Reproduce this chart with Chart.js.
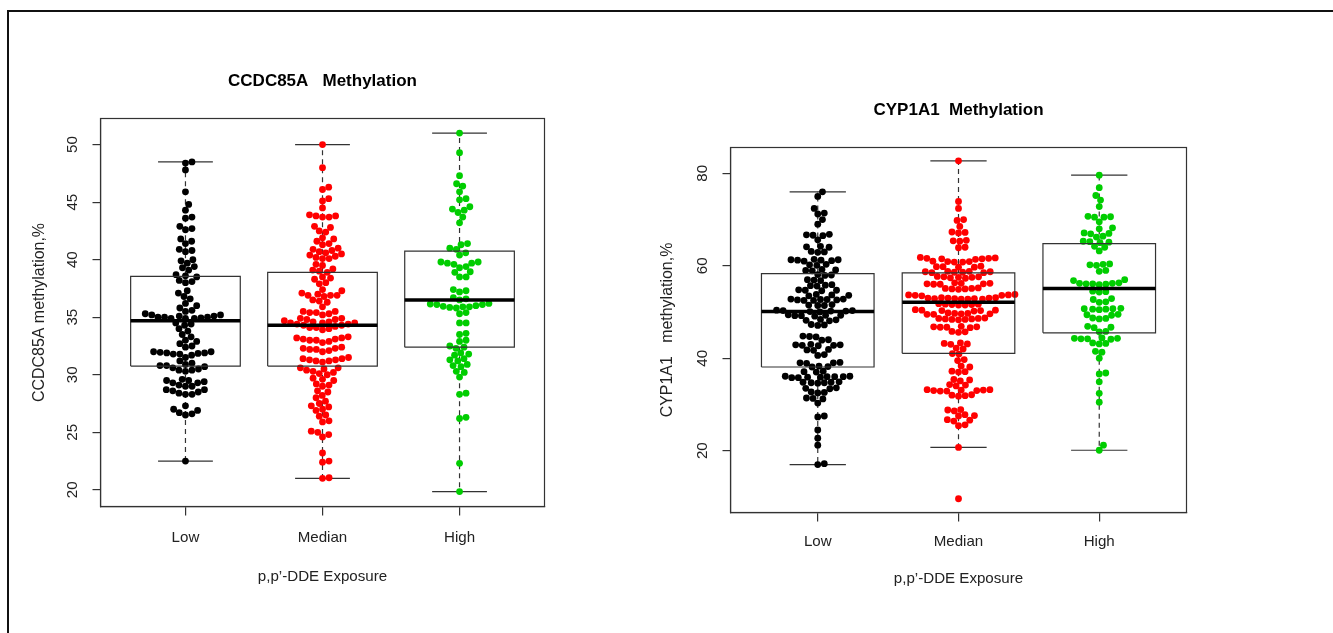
<!DOCTYPE html>
<html><head><meta charset="utf-8">
<script src="https://cdn.jsdelivr.net/npm/chart.js@4.4.1/dist/chart.umd.min.js"></script>
<style>
html,body{margin:0;padding:0;background:#fff;width:1333px;height:633px;overflow:hidden;}
#frame{position:absolute;left:7px;top:9.5px;right:-5px;bottom:-5px;border-top:2px solid #111;border-left:2px solid #111;}
canvas{position:absolute;top:0;}
#c1{left:0px}
#c2{left:640px}
</style></head><body>
<div id="frame"></div>
<canvas id="c1" width="640" height="633"></canvas>
<canvas id="c2" width="693" height="633"></canvas>
<script>
// ---------------- data ----------------
const categories = ['Low', 'Median', 'High'];
const pointColors = ['#000000', '#FF0000', '#00CD00'];

// CCDC85A methylation (%) by exposure group
const ccdcLow = [48.5, 48.4, 47.8, 45.9, 44.8, 44.3, 43.7, 43.6, 42.9, 42.7, 42.6, 41.8, 41.6, 41.4, 40.9, 40.8, 40.7,
  40.0, 39.9, 39.7, 39.4, 39.3, 39.1, 38.7, 38.6, 38.5, 38.2, 38.1, 38.0, 37.3, 37.1, 36.8, 36.6, 36.2, 36.0, 35.8,
  35.6, 35.5, 35.3, 35.2, 35.2, 35.1, 35.1, 35.0, 35.0, 35.0, 34.95, 34.9, 34.9, 34.9, 34.5, 34.4, 34.3, 34.0, 33.8,
  33.5, 33.3, 33.0, 32.9, 32.7, 32.5, 32.4, 32.0, 32.0, 31.95, 31.9, 31.9, 31.85, 31.8, 31.8, 31.7, 31.5, 31.2, 31.0,
  30.9, 30.8, 30.8, 30.7, 30.6, 30.5, 30.4, 30.4, 30.3, 29.6, 29.5, 29.5, 29.4, 29.3, 29.3, 29.1, 29.0, 29.0, 28.7,
  28.7, 28.6, 28.5, 28.4, 28.3, 28.3, 27.3, 27.0, 26.9, 26.7, 26.6, 26.5, 22.5];
const ccdcMedian = [50.0, 48.0, 46.3, 46.1, 45.3, 45.1, 44.5, 43.9, 43.8, 43.8, 43.7, 43.7, 42.9, 42.8, 42.5, 42.4,
  41.9, 41.8, 41.6, 41.4, 41.3, 41.0, 40.9, 40.8, 40.7, 40.6, 40.5, 40.4, 40.3, 40.2, 40.1, 40.1, 39.6, 39.5, 39.2,
  39.1, 39.0, 38.9, 38.5, 38.4, 38.3, 38.0, 37.9, 37.4, 37.3, 37.1, 37.0, 36.9, 36.9, 36.9, 36.8, 36.5, 36.4, 36.3,
  35.9, 35.5, 35.5, 35.4, 35.4, 35.3, 35.2, 34.9, 34.9, 34.8, 34.8, 34.7, 34.6, 34.6, 34.5, 34.5, 34.5, 34.4, 34.4,
  34.3, 34.3, 34.2, 34.1, 34.1, 34.0, 33.9, 33.3, 33.2, 33.2, 33.1, 33.1, 33.0, 33.0, 32.9, 32.8, 32.4, 32.3, 32.3,
  32.2, 32.2, 32.1, 32.0, 31.5, 31.4, 31.4, 31.3, 31.3, 31.2, 31.2, 31.1, 30.6, 30.6, 30.5, 30.4, 30.3, 30.2, 30.1,
  30.0, 29.7, 29.6, 29.5, 29.2, 29.1, 29.0, 28.6, 28.5, 28.2, 28.0, 27.7, 27.5, 27.3, 27.2, 27.0, 26.9, 26.5, 26.4,
  26.0, 25.9, 25.1, 25.0, 24.8, 24.6, 23.2, 22.5, 22.4, 21.05, 21.0];
const ccdcHigh = [51.0, 49.3, 47.3, 46.6, 46.4, 45.9, 45.3, 45.2, 44.6, 44.4, 44.3, 44.1, 43.7, 43.2, 41.4, 41.3,
  41.0, 40.9, 40.6, 40.4, 39.8, 39.8, 39.7, 39.7, 39.6, 39.4, 39.3, 38.95, 38.9, 38.5, 38.5, 37.4, 37.3, 37.2, 36.7,
  36.6, 36.5, 36.2, 36.15, 36.1, 36.1, 36.0, 35.95, 35.9, 35.9, 35.85, 35.8, 35.4, 35.3, 34.5, 34.5, 33.6, 33.5,
  33.0, 32.9, 32.5, 32.4, 32.3, 31.9, 31.8, 31.7, 31.4, 31.3, 31.2, 30.9, 30.8, 30.7, 30.3, 30.2, 29.8, 28.4, 28.3,
  26.3, 26.2, 22.3, 19.85];
const ccdcQ1 = [30.75, 30.75, 32.4];
const ccdcMed = [34.7, 34.3, 36.5];
const ccdcQ3 = [38.55, 38.9, 40.75];
const ccdcWhiskerLow = [22.5, 21.0, 19.85];
const ccdcWhiskerHigh = [48.5, 50.0, 51.0];
const ccdcYTicks = [20, 25, 30, 35, 40, 45, 50];
const ccdcYRange = [18.55, 52.27];

// CYP1A1 methylation (%) by exposure group
const cypLow = [76.0, 75.0, 72.4, 71.4, 71.2, 70.0, 69.0, 66.8, 66.7, 66.6, 66.5, 65.6, 64.2, 64.1, 64.0, 63.1, 63.0,
  62.9, 61.4, 61.3, 61.3, 61.2, 61.2, 61.1, 61.0, 60.3, 60.2, 60.1, 59.2, 59.1, 59.0, 58.9, 58.1, 58.0, 57.9, 57.0,
  56.9, 56.8, 55.9, 55.8, 55.7, 55.6, 54.8, 54.7, 54.7, 54.6, 53.8, 53.7, 53.6, 53.5, 52.8, 52.8, 52.7, 52.7, 52.6,
  52.6, 52.5, 52.5, 51.6, 51.5, 51.4, 51.4, 50.4, 50.3, 50.3, 50.2, 50.2, 50.1, 50.0, 49.4, 49.3, 49.3, 49.2, 49.2,
  49.1, 48.4, 48.3, 48.2, 48.1, 47.3, 47.2, 47.1, 44.8, 44.7, 44.6, 44.0, 43.9, 43.0, 42.9, 42.9, 42.8, 42.8, 42.7,
  41.9, 41.8, 41.7, 40.8, 40.6, 39.1, 39.0, 39.0, 38.9, 38.3, 38.2, 38.1, 37.2, 37.1, 37.0, 36.1, 36.1, 36.0, 36.0,
  36.0, 35.9, 35.9, 35.8, 35.8, 34.9, 34.8, 34.8, 34.7, 34.7, 34.6, 33.6, 33.5, 33.4, 32.7, 32.6, 32.5, 31.4, 31.3,
  31.2, 30.3, 27.5, 27.3, 24.5, 22.7, 21.2, 17.2, 17.0];
const cypMedian = [82.7, 73.9, 72.4, 70.0, 69.8, 68.5, 67.3, 67.2, 67.1, 65.5, 65.4, 65.3, 64.0, 63.9, 61.8, 61.7,
  61.6, 61.6, 61.5, 61.5, 61.4, 61.0, 60.9, 60.9, 60.8, 60.8, 59.9, 59.8, 59.8, 59.7, 59.7, 58.8, 58.8, 58.7, 58.7,
  58.6, 58.6, 58.5, 58.5, 57.7, 57.6, 57.6, 57.5, 57.5, 57.4, 57.3, 56.3, 56.2, 56.2, 56.1, 56.1, 56.0, 56.0, 55.2,
  55.1, 55.1, 55.0, 55.0, 54.9, 53.8, 53.7, 53.7, 53.6, 53.6, 53.5, 53.1, 53.1, 53.0, 53.0, 53.0, 52.9, 52.9, 52.9,
  52.8, 52.8, 52.8, 51.8, 51.7, 51.7, 51.6, 51.6, 51.5, 51.5, 50.5, 50.4, 50.4, 50.3, 50.3, 50.2, 49.8, 49.7,
  49.7, 49.6, 49.6, 49.5, 49.5, 48.7, 48.6, 48.6, 48.5, 48.5, 48.4, 48.4, 48.3, 46.9, 46.8, 46.8, 46.7, 46.7, 46.6,
  45.8, 45.7, 45.6, 43.3, 43.2, 43.1, 43.0, 42.2, 42.0, 41.0, 40.9, 39.7, 39.5, 38.3, 38.1, 37.2, 37.1, 37.0, 35.4,
  35.3, 35.1, 34.3, 34.2, 34.0, 33.2, 33.2, 33.1, 33.1, 33.0, 33.0, 32.9, 32.9, 32.1, 32.0, 31.9, 31.8, 28.9, 28.8,
  28.6, 27.8, 27.6, 27.5, 26.7, 26.6, 26.4, 25.6, 25.4, 20.7, 9.6];
const cypHigh = [79.6, 76.9, 75.2, 74.2, 72.8, 70.7, 70.6, 70.5, 70.5, 69.5, 68.2, 68.0, 67.1, 67.0, 66.9, 66.4,
  66.2, 65.3, 65.2, 65.1, 65.0, 64.2, 64.0, 63.2, 60.4, 60.3, 60.2, 60.1, 59.0, 58.8, 57.0, 56.8, 56.3, 56.2, 56.2,
  56.1, 56.1, 56.0, 55.9, 54.5, 54.4, 54.3, 52.9, 52.7, 52.2, 52.1, 50.8, 50.7, 50.7, 50.6, 50.6, 50.5, 49.5, 49.4,
  49.3, 48.7, 48.6, 48.5, 46.9, 46.7, 46.6, 45.8, 45.7, 44.4, 44.3, 44.3, 44.2, 44.2, 44.1, 43.3, 43.2, 43.1, 41.5,
  41.3, 40.0, 36.8, 36.6, 34.9, 32.4, 30.5, 21.2, 20.1];
const cypQ1 = [38.1, 41.05, 45.5];
const cypMed = [50.1, 52.1, 55.1];
const cypQ3 = [58.3, 58.45, 64.8];
const cypWhiskerLow = [17.0, 20.7, 20.1];
const cypWhiskerHigh = [76.0, 82.7, 79.6];
const cypYTicks = [20, 40, 60, 80];
const cypYRange = [6.63, 85.58];

const xRange = [0.38, 3.62];

// ---------------- styling helpers ----------------
function fontAvailable(name) {
  const c = document.createElement('canvas').getContext('2d');
  const s = 'mmmmmmmmmmlli WWW 0123456789';
  c.font = '40px monospace'; const a = c.measureText(s).width;
  c.font = '40px "' + name + '", monospace'; const b = c.measureText(s).width;
  c.font = '40px serif'; const a2 = c.measureText(s).width;
  c.font = '40px "' + name + '", serif'; const b2 = c.measureText(s).width;
  return a !== b || a2 !== b2;
}
const NARROW = fontAvailable('Liberation Sans Narrow');
const axisFamily = NARROW ? '"Liberation Sans Narrow", "Liberation Sans", Arial, sans-serif'
                          : '"Liberation Sans", Arial, sans-serif';
const K = NARROW ? 1 : 0.84;
const tickSize = 18 * K, xTitleSize = 18 * K, yTitleSize = 19 * K;
const titleFamily = '"Liberation Sans", Arial, Helvetica, sans-serif';
const LINE = '#333';
const TEXT = '#222';
const BOX_HALF = 0.4, CAP_HALF = 0.2;
const DOT_R = 3.4, SWARM_D = 6.6;

const framePlugin = {
  id: 'plotFrame',
  beforeDatasetsDraw(chart) {
    const { ctx, chartArea: a } = chart;
    ctx.save();
    ctx.strokeStyle = LINE; ctx.lineWidth = 1.2;
    ctx.strokeRect(a.left, a.top, a.right - a.left, a.bottom - a.top);
    ctx.restore();
  }
};

function lineDs(data, color, width, dash, order) {
  return { type: 'scatter', data, showLine: true, borderColor: color, backgroundColor: color,
    borderWidth: width, borderDash: dash, pointRadius: 0, pointHoverRadius: 0, fill: false,
    tension: 0, order, borderCapStyle: 'butt' };
}

// R-style "swarm" placement in pixel space (ascending priority)
function swarm(py, d) {
  const idx = py.map((_, i) => i).sort((a, b) => py[b] - py[a]);
  const placed = []; const out = new Array(py.length);
  for (const i of idx) {
    const y = py[i];
    const near = placed.filter(p => Math.abs(p.y - y) < d);
    const cands = [0];
    near.forEach(p => { const dx = Math.sqrt(d * d - (p.y - y) * (p.y - y)); cands.push(p.x + dx, p.x - dx); });
    let best = null;
    for (const c of cands) {
      if (near.every(p => (c - p.x) * (c - p.x) + (y - p.y) * (y - p.y) >= d * d - 1e-6)) {
        if (best === null || Math.abs(c) < Math.abs(best) - 1e-9) best = c;
      }
    }
    out[i] = best; placed.push({ x: best, y });
  }
  return out;
}

function buildChart(canvasId, spec) {
  const canvas = document.getElementById(canvasId);
  const W = canvas.width, H = canvas.height;
  const A = spec.area;
  const titleLH = 17 * 1.2, tickLH = tickSize * 1.2, xtLH = xTitleSize * 1.2, ytLH = yTitleSize * 1.2;
  const XH = spec.xTitleY - A.bottom + 4 + xtLH / 2;
  const meas = document.createElement('canvas').getContext('2d');
  meas.font = tickSize + 'px ' + axisFamily;
  const widest = Math.max(...spec.yTicks.map(t => meas.measureText(String(t)).width));

  const datasets = []; const pointSets = [];
  spec.groups.forEach((vals, g) => {
    const cx = g + 1;
    const pts = { type: 'scatter', data: vals.map(v => ({ x: cx, y: v })), pointRadius: DOT_R, pointHoverRadius: DOT_R,
      backgroundColor: pointColors[g], borderWidth: 0, order: 2 };
    pointSets.push(pts); datasets.push(pts);
    datasets.push(lineDs([{ x: cx - BOX_HALF, y: spec.med[g] }, { x: cx + BOX_HALF, y: spec.med[g] }], '#000', 3.5, [], 0));
    datasets.push(lineDs([
      { x: cx - BOX_HALF, y: spec.q1[g] }, { x: cx + BOX_HALF, y: spec.q1[g] },
      { x: cx + BOX_HALF, y: spec.q3[g] }, { x: cx - BOX_HALF, y: spec.q3[g] },
      { x: cx - BOX_HALF, y: spec.q1[g] }], LINE, 1.2, [], 1));
    datasets.push(lineDs([{ x: cx, y: spec.q3[g] }, { x: cx, y: spec.hi[g] }], LINE, 1.2, [5, 4], 3));
    datasets.push(lineDs([{ x: cx, y: spec.q1[g] }, { x: cx, y: spec.lo[g] }], LINE, 1.2, [5, 4], 3));
    datasets.push(lineDs([{ x: cx - CAP_HALF, y: spec.hi[g] }, { x: cx + CAP_HALF, y: spec.hi[g] }], LINE, 1.2, [], 3));
    datasets.push(lineDs([{ x: cx - CAP_HALF, y: spec.lo[g] }, { x: cx + CAP_HALF, y: spec.lo[g] }], LINE, 1.2, [], 3));
  });

  const chart = new Chart(canvas, {
    type: 'scatter',
    data: { datasets },
    options: {
      responsive: false, animation: false, events: [],
      layout: { padding: { left: 0, top: 0, right: W - A.right, bottom: H - A.bottom - XH } },
      plugins: {
        legend: { display: false }, tooltip: { enabled: false },
        title: { display: true, text: spec.title, color: '#000', fullSize: false,
          font: { family: titleFamily, size: 17, weight: 'bold', lineHeight: 1.2 },
          padding: { top: spec.titleY - titleLH / 2, bottom: A.top - spec.titleY - titleLH / 2 } }
      },
      scales: {
        x: {
          type: 'linear', min: xRange[0], max: xRange[1],
          afterBuildTicks: s => { s.ticks = categories.map((c, i) => ({ value: i + 1 })); },
          afterFit: s => { s.height = XH; },
          ticks: { callback: v => categories[Math.round(v) - 1], color: TEXT, autoSkip: false,
            minRotation: 0, maxRotation: 0,
            font: { family: axisFamily, size: tickSize, lineHeight: 1.2 },
            padding: spec.xTickY - A.bottom - 9 - tickLH / 2 },
          grid: { display: true, drawOnChartArea: false, drawTicks: true, tickLength: 9, color: LINE, lineWidth: 1.2 },
          border: { display: true, color: LINE, width: 1.2 },
          title: { display: true, text: 'p,p\u2019-DDE Exposure', color: TEXT,
            font: { family: axisFamily, size: xTitleSize, lineHeight: 1.2 }, padding: { top: 0, bottom: 4 } }
        },
        y: {
          type: 'linear', min: spec.yRange[0], max: spec.yRange[1],
          afterBuildTicks: s => { s.ticks = spec.yTicks.map(v => ({ value: v })); },
          afterFit: s => { s.width = A.left; },
          ticks: { callback: v => String(v), color: TEXT, autoSkip: false, minRotation: 90, maxRotation: 90,
            crossAlign: 'center', font: { family: axisFamily, size: tickSize, lineHeight: 1.2 },
            padding: A.left - 8 - spec.yTickX - widest / 2 },
          grid: { display: true, drawOnChartArea: false, drawTicks: true, tickLength: 8, color: LINE, lineWidth: 1.2 },
          border: { display: true, color: LINE, width: 1.2 },
          title: { display: true, text: spec.yTitle, color: TEXT,
            font: { family: axisFamily, size: yTitleSize, lineHeight: 1.2 },
            padding: { top: spec.yTitleX - ytLH / 2, bottom: 0 } }
        }
      }
    },
    plugins: [framePlugin]
  });

  // beeswarm offsets computed with the chart's own scales
  const xs = chart.scales.x, ys = chart.scales.y;
  const pxPerUnit = xs.getPixelForValue(1) - xs.getPixelForValue(0);
  pointSets.forEach((ds, g) => {
    const vals = spec.groups[g];
    const off = swarm(vals.map(v => ys.getPixelForValue(v)), SWARM_D);
    ds.data = vals.map((v, k) => ({ x: g + 1 + off[k] / pxPerUnit, y: v }));
  });
  chart.update('none');
  return chart;
}

buildChart('c1', {
  title: 'CCDC85A   Methylation', yTitle: 'CCDC85A methylation,%',
  groups: [ccdcLow, ccdcMedian, ccdcHigh],
  q1: ccdcQ1, med: ccdcMed, q3: ccdcQ3, lo: ccdcWhiskerLow, hi: ccdcWhiskerHigh,
  yTicks: ccdcYTicks, yRange: ccdcYRange,
  area: { left: 100.5, right: 544.5, top: 118.5, bottom: 506.5 },
  titleY: 81.7, yTickX: 73.3, yTitleX: 39.5, xTickY: 537.5, xTitleY: 577
});
buildChart('c2', {
  title: 'CYP1A1  Methylation', yTitle: 'CYP1A1   methylation,%',
  groups: [cypLow, cypMedian, cypHigh],
  q1: cypQ1, med: cypMed, q3: cypQ3, lo: cypWhiskerLow, hi: cypWhiskerHigh,
  yTicks: cypYTicks, yRange: cypYRange,
  area: { left: 90.5, right: 546.5, top: 147.5, bottom: 512.5 },
  titleY: 110.5, yTickX: 62.5, yTitleX: 28, xTickY: 541.5, xTitleY: 579
});
</script>
</body></html>
